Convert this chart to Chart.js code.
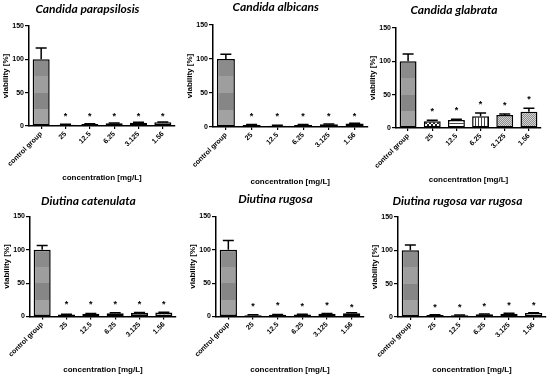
<!DOCTYPE html>
<html>
<head>
<meta charset="utf-8">
<script src="https://cdn.jsdelivr.net/npm/chart.js@4/dist/chart.umd.min.js"></script>
<style>
  html, body { margin: 0; padding: 0; background: #fff; }
  body { width: 550px; height: 376px; position: relative; overflow: hidden; }
  canvas { position: absolute; }
</style>
</head>
<body>
<script>
// === data ===
const categories = ['control group', '25', '12.5', '6.25', '3.125', '1.56'];
const titles = ['Candida parapsilosis', 'Candida albicans', 'Candida glabrata',
  'Diutina catenulata', 'Diutina rugosa', 'Diutina rugosa var rugosa'];

const parapsilosis = [100, 2, 3, 4, 5, 5.5];
const albicans = [100, 3, 2, 3, 4, 5];
const glabrata = [100, 10, 12, 17.5, 19.5, 24.5];
const catenulata = [100, 3, 4, 5, 5.5, 6];
const rugosa = [100, 2, 2.5, 3, 4, 5];
const rugosaVar = [100, 3, 2.5, 4, 5, 6];

const parapsilosisErr = [17, 0.5, 0.5, 0.5, 0.5, 0.5];
const albicansErr = [7, 0.5, 0.5, 0.5, 0.5, 0.5];
const glabrataErr = [11, 1.5, 1, 5, 1.5, 5];
const catenulataErr = [6.5, 0.5, 0.5, 0.5, 0.5, 0.5];
const rugosaErr = [14, 0.5, 0.5, 0.5, 0.5, 0.5];
const rugosaVarErr = [8, 0.5, 0.5, 0.5, 0.5, 0.5];

// height of the significance star above each bar (null = none)
const parapsilosisStars = [null, 17, 17, 17, 17, 17];
const albicansStars = [null, 17, 17, 17, 17, 17];
const glabrataStars = [null, 27, 29, 37, 36, 44.5];
const catenulataStars = [null, 20, 20, 20, 20, 20];
const rugosaStars = [null, 17.5, 19, 17.5, 19, 16.5];
const rugosaVarStars = [null, 16, 16, 17.5, 20, 20];

const yTicks = [0, 50, 100, 150];

const values = [parapsilosis, albicans, glabrata, catenulata, rugosa, rugosaVar];
const errors = [parapsilosisErr, albicansErr, glabrataErr, catenulataErr, rugosaErr, rugosaVarErr];
const stars = [parapsilosisStars, albicansStars, glabrataStars, catenulataStars, rugosaStars, rugosaVarStars];

// === layout (absolute page px) ===
const panels = [
  { top: 0,   plotL: 29,    plotR: 175,   plotT: 26,    plotB: 126,   titleX: 102,   titleY: 9,     xTitleY: 178 },
  { top: 0,   plotL: 212.5, plotR: 367,   plotT: 25,    plotB: 127,   titleX: 277,   titleY: 7.5,   xTitleY: 181.5 },
  { top: 0,   plotL: 396,   plotR: 541,   plotT: 28,    plotB: 128,   titleX: 464,   titleY: 10,    xTitleY: 180 },
  { top: 188, plotL: 30,    plotR: 176,   plotT: 216.5, plotB: 316.5, titleX: 93.5,  titleY: 201,   xTitleY: 369.7 },
  { top: 188, plotL: 215.5, plotR: 363.5, plotT: 216.5, plotB: 316.5, titleX: 278,   titleY: 199.5, xTitleY: 369.7 },
  { top: 188, plotL: 398,   plotR: 546,   plotT: 217,   plotB: 317,   titleX: 467.5, titleY: 201,   xTitleY: 369.7 }
];

const fills = [
  ['control', 'light', 'light', 'light', 'light', 'light'],
  ['control', 'light', 'light', 'light', 'light', 'light'],
  ['control', 'dots', 'hlines', 'vlines', 'gray', 'gray'],
  ['control', 'light', 'light', 'light', 'light', 'light'],
  ['control', 'light', 'light', 'light', 'light', 'light'],
  ['control', 'light', 'light', 'light', 'light', 'light']
];

// === patterns ===
function makePattern(size, draw) {
  const c = document.createElement('canvas');
  c.width = size; c.height = size;
  draw(c.getContext('2d'), size);
  return c.getContext('2d').createPattern(c, 'repeat');
}
const patterns = {
  light: makePattern(4, (g, s) => {
    g.fillStyle = '#f2f2f2'; g.fillRect(0, 0, s, s);
    g.fillStyle = '#cfcfcf'; g.fillRect(0, 0, 2, 2); g.fillRect(2, 2, 2, 2);
  }),
  dots: makePattern(4, (g, s) => {
    g.fillStyle = '#fff'; g.fillRect(0, 0, s, s);
    g.fillStyle = '#222'; g.fillRect(0, 0, 2, 2); g.fillRect(2, 2, 2, 2);
  }),
  hlines: makePattern(3, (g, s) => {
    g.fillStyle = '#fff'; g.fillRect(0, 0, s, s);
    g.fillStyle = '#444'; g.fillRect(0, 0, s, 1);
  }),
  vlines: makePattern(3, (g, s) => {
    g.fillStyle = '#fff'; g.fillRect(0, 0, s, s);
    g.fillStyle = '#444'; g.fillRect(0, 0, 1, s);
  }),
  gray: makePattern(2, (g, s) => {
    g.fillStyle = '#d4d4d4'; g.fillRect(0, 0, s, s);
    g.fillStyle = '#8c8c8c'; g.fillRect(0, 0, 1, 1); g.fillRect(1, 1, 1, 1);
  })
};

function barFill(ctx, name) {
  if (name !== 'control') return patterns[name];
  const chart = ctx.chart;
  const y = chart.scales.y;
  if (!chart.chartArea || !y) return '#929292';
  const y0 = y.getPixelForValue(0), y1 = y.getPixelForValue(100);
  const grad = chart.ctx.createLinearGradient(0, y0, 0, y1);
  const bands = ['#a2a2a2', '#868686', '#9e9e9e', '#8b8b8b'];
  bands.forEach((col, k) => {
    grad.addColorStop(k / 4, col);
    grad.addColorStop((k + 1) / 4 - 0.001, col);
  });
  return grad;
}

// === error bars and stars ===
const errStars = {
  id: 'errStars',
  afterDatasetsDraw(chart, args, opts) {
    const { ctx } = chart;
    const y = chart.scales.y;
    const data = chart.data.datasets[0].data;
    const meta = chart.getDatasetMeta(0);
    ctx.save();
    ctx.strokeStyle = '#000';
    ctx.fillStyle = '#000';
    ctx.lineWidth = 1.5;
    meta.data.forEach((bar, j) => {
      const v = data[j];
      const e = opts.err[j];
      if (e > 0) {
        const yb = y.getPixelForValue(v);
        const yt = y.getPixelForValue(v + e);
        ctx.beginPath();
        ctx.moveTo(bar.x, yb); ctx.lineTo(bar.x, yt);
        ctx.moveTo(bar.x - 5.5, yt); ctx.lineTo(bar.x + 5.5, yt);
        ctx.stroke();
      }
      const s = opts.stars[j];
      if (s != null) {
        ctx.font = 'bold 9px "Liberation Sans"';
        ctx.textAlign = 'center';
        ctx.textBaseline = 'alphabetic';
        ctx.fillText('*', bar.x, y.getPixelForValue(s) + 4);
      }
    });
    ctx.restore();
  }
};

const Y_W = 29;
const T_SIZE = 12;
const LH_T = T_SIZE * 1.2;
const LH_X = 8 * 1.2;

panels.forEach((p, i) => {
  const plotW = p.plotR - p.plotL;
  const plotC = (p.plotL + p.plotR) / 2;
  const padR = Y_W + 2 * (p.titleX - plotC);
  const left = p.plotL - Y_W;
  const width = Y_W + plotW + padR;
  const height = 188;

  const canvas = document.createElement('canvas');
  canvas.width = width; canvas.height = height;
  canvas.style.left = left + 'px';
  canvas.style.top = p.top + 'px';
  canvas.style.width = width + 'px';
  canvas.style.height = height + 'px';
  document.body.appendChild(canvas);

  const tPadTop = p.titleY - p.top - LH_T / 2;
  const tPadBottom = (p.plotT - p.top) - tPadTop - LH_T;
  const xH = (p.top + height) - p.plotB;
  const xTitlePad = (p.top + height) - p.xTitleY - LH_X / 2;

  new Chart(canvas, {
    type: 'bar',
    data: {
      labels: categories,
      datasets: [{
        data: values[i],
        backgroundColor: ctx => barFill(ctx, fills[i][ctx.dataIndex]),
        borderColor: '#000',
        borderWidth: 1.5,
        borderSkipped: false,
        barPercentage: 0.7,
        categoryPercentage: 1
      }]
    },
    options: {
      responsive: false,
      animation: false,
      layout: { padding: { left: 0, right: padR, top: 0, bottom: 0 } },
      plugins: {
        legend: { display: false },
        tooltip: { enabled: false },
        title: {
          display: true,
          text: titles[i],
          color: '#000',
          font: { family: 'Lato', size: T_SIZE, style: 'italic', weight: 'bold' },
          padding: { top: tPadTop, bottom: tPadBottom }
        },
        errStars: { err: errors[i], stars: stars[i] }
      },
      scales: {
        x: {
          afterFit: s => { s.height = xH; },
          grid: { display: true, drawOnChartArea: false, offset: false, tickLength: 3, color: '#000', lineWidth: 1.2 },
          border: { display: true, color: '#000', width: 1.5 },
          ticks: {
            color: '#000', minRotation: 45, maxRotation: 45, padding: 1,
            font: { family: 'Liberation Sans', size: 7, weight: 'bold' }
          },
          title: {
            display: true, text: 'concentration [mg/L]', color: '#000',
            font: { family: 'Liberation Sans', size: 8, weight: 'bold' },
            padding: { top: 0, bottom: xTitlePad }
          }
        },
        y: {
          min: 0, max: 150,
          afterFit: s => { s.width = Y_W; },
          afterBuildTicks: s => { s.ticks = yTicks.map(v => ({ value: v })); },
          grid: { display: true, drawOnChartArea: false, tickLength: 4, color: '#000', lineWidth: 1.2 },
          border: { display: true, color: '#000', width: 1.5 },
          ticks: {
            color: '#000', padding: 1,
            font: { family: 'Liberation Sans', size: 7, weight: 'bold' }
          },
          title: {
            display: true, text: 'viability [%]', color: '#000',
            font: { family: 'Liberation Sans', size: 8, weight: 'bold' },
            padding: { top: 1, bottom: 0 }
          }
        }
      }
    },
    plugins: [errStars]
  });
});
</script>
</body>
</html>
